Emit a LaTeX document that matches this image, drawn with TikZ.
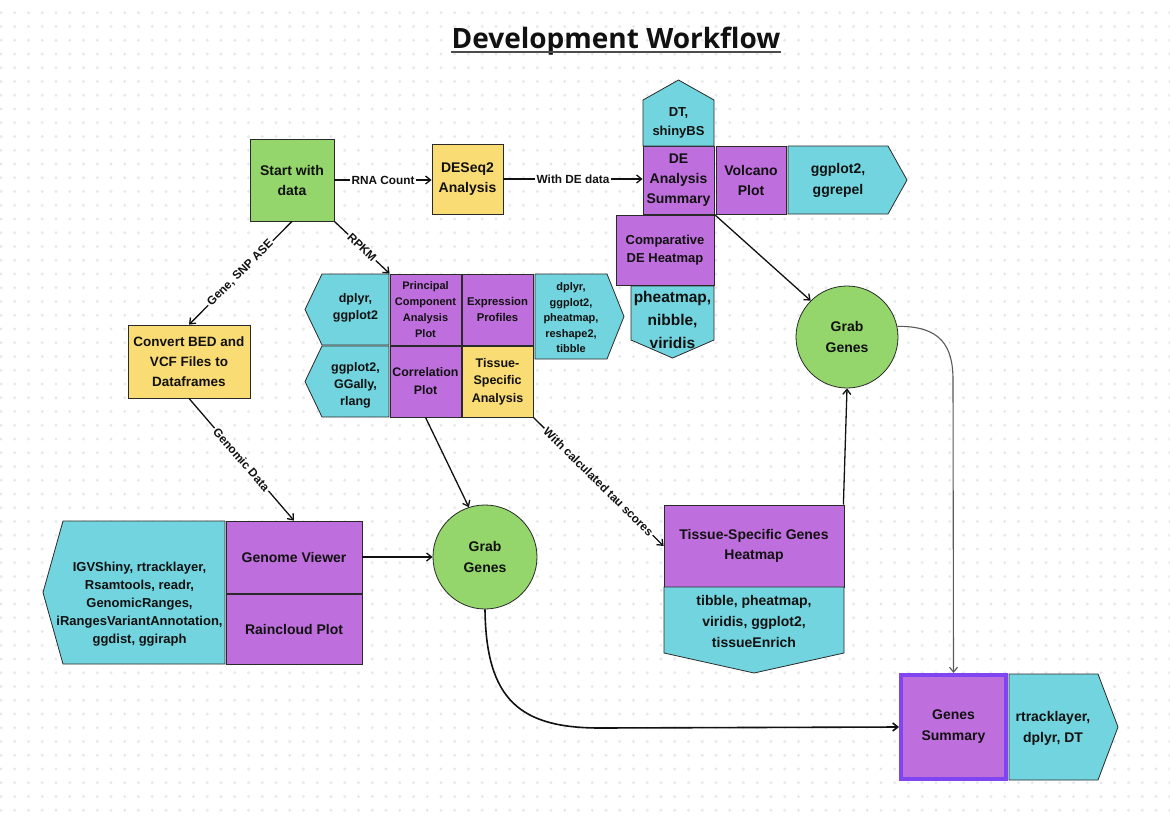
\documentclass[tikz,border=0pt]{standalone}
\usepackage{fontspec}
\setmainfont{Liberation Sans}
\newfontfamily\titlefont{Open Sans}
\usetikzlibrary{arrows.meta}
\definecolor{cgreen}{HTML}{94D66B}
\definecolor{cyellow}{HTML}{FADC74}
\definecolor{cpurple}{HTML}{BF6FDD}
\definecolor{ccyan}{HTML}{72D4DE}
\definecolor{cdot}{HTML}{E6E8ED}
\definecolor{cedge}{HTML}{2A2A2A}
\definecolor{ctext}{HTML}{111111}
\definecolor{cgs}{HTML}{7F45F0}
\newcommand{\fs}[2]{\fontsize{#1}{#2}\selectfont}
\begin{document}
\begin{tikzpicture}[x=1pt,y=-1pt,
  box/.style={draw=cedge, line width=0.8, inner sep=0, align=center, text=ctext, font=\bfseries\fs{14}{20}},
  gbox/.style={box, fill=cgreen},
  ybox/.style={box, fill=cyellow},
  pbox/.style={box, fill=cpurple},
  circ/.style={box, circle, fill=cgreen},
  libshape/.style={draw=cedge, line width=0.8, fill=ccyan},
  libtx/.style={inner sep=0, align=center, text=ctext, font=\bfseries\fs{14}{20}},
  conn/.style={draw=ctext, line width=1.3, -{Straight Barb[length=5,width=8]}},
  lab/.style={fill=white, inner sep=1.5, text=ctext, font=\bfseries\fs{11.8}{13}}
]
\useasboundingbox (0,0) rectangle (1170,819);
\fill[white] (0,0) rectangle (1170,819);
\foreach \i in {0,...,85}{\foreach \j in {0,...,59}{\fill[cdot] (1+\i*13.75, 12.75+\j*13.75) circle (1.6);}}

% title
\node[inner sep=0, text=ctext, font=\titlefont\bfseries\fs{28}{30}] (title) at (616,41) {Development Workflow};
\draw[line width=2, black!70] ([yshift=-4]title.base west) -- ([yshift=-4]title.base east);

% top row
\node[gbox, minimum width=84, minimum height=82] (start) at (292,180) {Start with\\data};
\node[ybox, minimum width=71, minimum height=70] (deseq) at (467.5,179) {DESeq2\\Analysis};
\node[pbox, minimum width=71, minimum height=68] (de) at (678.5,180) {DE\\Analysis\\Summary};
\filldraw[libshape] (643,146) -- (643,100) -- (678.5,80) -- (714,100) -- (714,146) -- cycle;
\node[libtx, font=\bfseries\fs{13}{19}] (dt) at (678.5,123) {DT,\\shinyBS};
\node[pbox, minimum width=70, minimum height=68] (volc) at (751,180) {Volcano\\Plot};
\filldraw[libshape] (788,146) -- (888,146) -- (907,180) -- (888,214) -- (788,214) -- cycle;
\node[libtx, font=\bfseries\fs{14}{21}] (ggr) at (838,180) {ggplot2,\\ggrepel};
\node[pbox, minimum width=98, minimum height=70, font=\bfseries\fs{13}{18}] (cde) at (665,250) {Comparative\\DE Heatmap};
\filldraw[libshape] (631,286) -- (714,286) -- (714,340) -- (672.5,358) -- (631,340) -- cycle;
\node[libtx, font=\bfseries\fs{15.5}{23}] (phv) at (672.5,320) {pheatmap,\\nibble,\\viridis};
\node[circ, minimum size=102, font=\bfseries\fs{14}{21}] (gg2) at (847,337) {Grab\\Genes};

% left
\node[ybox, minimum width=122, minimum height=73, font=\bfseries\fs{13.5}{20}] (conv) at (189,361.5) {Convert BED and\\VCF Files to\\Dataframes};

% PCA cluster
\filldraw[libshape] (322,274) -- (389,274) -- (389,345) -- (322,345) -- (305,309.5) -- cycle;
\node[libtx, font=\bfseries\fs{12.5}{17}] (lib1) at (355.5,308) {dplyr,\\ggplot2};
\node[pbox, minimum width=71, minimum height=71, font=\bfseries\fs{11}{16}] (pca) at (425.5,309.5) {Principal\\Component\\Analysis\\Plot};
\node[pbox, minimum width=71, minimum height=71, font=\bfseries\fs{11.3}{16}] (expr) at (497.5,309.5) {Expression\\Profiles};
\filldraw[libshape] (535,274) -- (607,274) -- (624,316.5) -- (607,359) -- (535,359) -- cycle;
\node[libtx, font=\bfseries\fs{11}{15.5}] (lib2) at (571,318) {dplyr,\\ggplot2,\\pheatmap,\\reshape2,\\tibble};
\filldraw[libshape] (322,346) -- (389,346) -- (389,417) -- (322,417) -- (305,381.5) -- cycle;
\node[libtx, font=\bfseries\fs{12.5}{17}] (lib3) at (355.5,385) {ggplot2,\\GGally,\\rlang};
\node[pbox, minimum width=71, minimum height=71, font=\bfseries\fs{12.4}{18}] (corr) at (425.5,381.5) {Correlation\\Plot};
\node[ybox, minimum width=71, minimum height=71, font=\bfseries\fs{12.5}{17.5}] (tsa) at (497.5,381.5) {Tissue-\\Specific\\Analysis};

% middle
\node[circ, minimum size=104, font=\bfseries\fs{14}{21}] (gg1) at (485,557) {Grab\\Genes};
\node[pbox, minimum width=180, minimum height=82] (tsh) at (754,546) {Tissue-Specific Genes\\Heatmap};
\filldraw[libshape] (664,587) -- (844,587) -- (844,653) -- (754,673) -- (664,653) -- cycle;
\node[libtx, font=\bfseries\fs{14}{21}] (lib4) at (754,621) {tibble, pheatmap,\\viridis, ggplot2,\\tissueEnrich};

% bottom left
\filldraw[libshape] (63,521) -- (225,521) -- (225,664) -- (63,664) -- (43,592.5) -- cycle;
\node[libtx, font=\bfseries\fs{13}{18}] (lib5) at (139.5,604) {IGVShiny, rtracklayer,\\Rsamtools, readr,\\GenomicRanges,\\iRangesVariantAnnotation,\\ggdist, ggiraph};
\node[pbox, minimum width=136, minimum height=72] (gv) at (294,557) {Genome Viewer};
\node[pbox, minimum width=136, minimum height=70] (rc) at (294,629) {Raincloud Plot};

% bottom right
\filldraw[libshape] (1009,674) -- (1098,674) -- (1118,727) -- (1098,780) -- (1009,780) -- cycle;
\node[libtx, font=\bfseries\fs{14}{21}] (lib6) at (1053,728) {rtracklayer,\\dplyr, DT};
\node[pbox, draw=cgs, line width=4, minimum width=105, minimum height=104, font=\bfseries\fs{14}{21}] (gs) at (953.5,727) {Genes\\Summary};

% connectors
\draw[conn] (start.east) -- node[lab, pos=0.5] {RNA Count} (deseq.west |- start.east);
\draw[conn] (deseq.east) -- node[lab, pos=0.5] {With DE data} (de.west |- deseq.east);
\draw[conn] (start.south) -- node[lab, sloped, pos=0.5] {Gene, SNP ASE} (conv.north);
\draw[conn] (start.south east) -- node[lab, sloped, pos=0.5] {RPKM} (pca.north west);
\draw[conn] (conv.south) -- node[lab, sloped, pos=0.5] {Genomic Data} (gv.north);
\draw[conn] (tsa.south east) -- node[lab, sloped, pos=0.5] {With calculated tau scores} (tsh.west);
\draw[conn] (de.south east) -- (gg2.135);
\draw[conn] (corr.south) -- (gg1.108);
\draw[conn] (gv.east) -- (gg1.west);
\draw[conn] ([xshift=-1]tsh.north east) -- (gg2.south);
\draw[conn, draw=black!65, line width=1.1] (gg2.12) .. controls (940,326) and (953,345) .. (953,380) -- (gs.north);
\draw[conn, line width=1.6] (gg1.south) .. controls (486,700) and (520,728) .. (600,728) -- (gs.west);
\end{tikzpicture}
\end{document}
